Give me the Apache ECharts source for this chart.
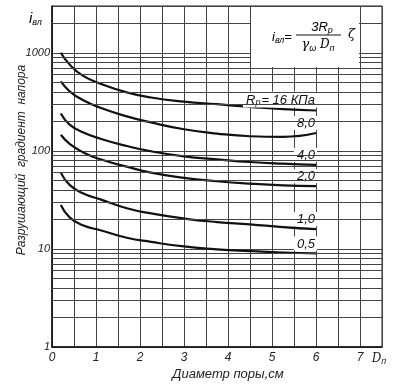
<!DOCTYPE html>
<html><head><meta charset="utf-8">
<script src="https://cdn.jsdelivr.net/npm/echarts@6/dist/echarts.min.js"></script>
<style>html,body{margin:0;padding:0;background:#fff}#c{width:397px;height:385px}</style>
</head><body><div id="c"></div>
<script>
// Diameter of pore D_п, cm
const diameters = [0.2, 0.4, 0.7, 1.1, 1.7, 2.25, 3, 3.75, 4.5, 5.25, 6];
// Destructive head gradient i_вл for each R_p
const grad16 = [1000, 760, 585, 485, 395, 350, 318, 299, 281, 266, 258];
const grad8  = [510, 405, 330, 275, 225, 195, 166, 150, 141, 139, 152];
const grad4  = [240, 185, 155, 133, 112, 99, 88, 82, 77, 74, 72];
const grad2  = [146, 118, 97, 82, 69, 60, 53, 49, 46.3, 44.5, 43.7];
const grad1  = [60, 45, 37, 32, 26, 23, 20.4, 18.8, 17.8, 16.7, 15.9];
const grad05 = [28, 21, 17.4, 15.5, 13, 11.8, 10.6, 9.9, 9.5, 9.2, 9.0];
const seriesValues = [grad16, grad8, grad4, grad2, grad1, grad05];
const seriesLabels = ['{r|R}{s|p}{r|= 16 КПа}', '{r|8,0}', '{r|4,0}', '{r|2,0}', '{r|1,0}', '{r|0,5}'];
const xTickLabels = [0, 1, 2, 3, 4, 5, 6, 7];
const yTickLabels = [1, 10, 100, 1000];
const minorGridValues = [2,3,4,5,6,7,8,9,20,30,40,50,60,70,80,90,200,300,400,500,600,700,800,900,2000];

const FONT = "'Liberation Sans', 'DejaVu Sans', sans-serif";
const chart = echarts.init(document.getElementById('c'), null, {renderer: 'canvas'});

const labelRich = {
  r: {fontFamily: FONT, fontStyle: 'italic', fontSize: 13, color: '#111'},
  s: {fontFamily: FONT, fontStyle: 'italic', fontSize: 9, color: '#111', verticalAlign: 'bottom', padding: [6, 1, 0, 0]}
};

const series = [{
  type: 'line', name: 'minorGrid', data: [], z: 1, silent: true,
  markLine: {
    silent: true, symbol: 'none', animation: false,
    label: {show: false},
    lineStyle: {color: '#444', width: 1, type: 'solid'},
    data: minorGridValues.map(v => ({yAxis: v}))
  }
}];
seriesValues.forEach((vals, i) => {
  series.push({
    type: 'line', z: 3, smooth: 0.5, showSymbol: false, symbol: 'none',
    data: vals.map((v, j) => [diameters[j], v]),
    lineStyle: {color: '#111', width: 2.2},
    endLabel: {
      show: true, formatter: () => seriesLabels[i],
      align: 'right', verticalAlign: 'bottom', distance: 0, offset: [1, -3],
      backgroundColor: '#fff', padding: [1, 2, 0, 3], rich: labelRich
    }
  });
});

chart.setOption({
  animation: false,
  backgroundColor: '#fff',
  grid: {left: 52, right: 15, top: 6, bottom: 38, show: true, borderColor: '#222', borderWidth: 1},
  xAxis: {
    type: 'value', min: 0, max: 7.5, interval: 0.5,
    axisLine: {lineStyle: {color: '#111', width: 1.5}},
    axisTick: {show: false},
    splitLine: {show: true, lineStyle: {color: '#444', width: 1}},
    axisLabel: {
      margin: 5, fontFamily: FONT, fontStyle: 'italic', fontSize: 12, color: '#222',
      formatter: v => xTickLabels.includes(v) ? String(v) : (v === 7.5 ? '{d|D}{s|п}' : ''),
      rich: {
        d: {fontFamily: 'DejaVu Serif', fontStyle: 'italic', fontSize: 12, color: '#222'},
        s: {fontFamily: FONT, fontStyle: 'italic', fontSize: 9, color: '#222', verticalAlign: 'bottom', padding: [5, 6, 0, 0]}
      }
    }
  },
  yAxis: {
    type: 'log', logBase: 10, min: 1, max: 3000,
    axisLine: {show: true, lineStyle: {color: '#111', width: 1.5}},
    axisTick: {show: false},
    splitLine: {show: true, lineStyle: {color: '#444', width: 1}},
    axisLabel: {
      margin: 2, fontFamily: FONT, fontStyle: 'italic', fontSize: 11, color: '#222',
      formatter: v => yTickLabels.some(t => Math.abs(t - v) < 1e-6) ? String(Math.round(v)) : ''
    }
  },
  series: series
});

// annotations
const p1 = chart.convertToPixel({gridIndex: 0}, [4.5, 3000]);
const p2 = chart.convertToPixel({gridIndex: 0}, [7, 700]);
const bx = p1[0] + 1, by = p1[1] + 1, bw = p2[0] - p1[0] - 2, bh = p2[1] - p1[1] - 2;
const fRich = {
  i: {fontFamily: FONT, fontStyle: 'italic', fontSize: 13, color: '#111'},
  I: {fontFamily: FONT, fontStyle: 'italic', fontSize: 15, color: '#111'},
  s: {fontFamily: FONT, fontStyle: 'italic', fontSize: 9, color: '#111', verticalAlign: 'bottom', padding: [7, 0, 0, 0]},
  g: {fontFamily: 'DejaVu Serif', fontStyle: 'italic', fontSize: 13, color: '#111'},
  d: {fontFamily: 'DejaVu Serif', fontStyle: 'italic', fontSize: 12, color: '#111'}
};
chart.setOption({
  graphic: [
    {type: 'rect', z: 100, shape: {x: bx, y: by, width: bw, height: bh}, style: {fill: '#fff'}},
    {type: 'text', z: 101, style: {x: bx + 21, y: by + 30, text: '{i|i}{s|вл}{i|=}', rich: fRich, verticalAlign: 'middle'}},
    {type: 'text', z: 101, style: {x: bx + 71, y: by + 20, text: '{i|3R}{s|p}', rich: fRich, align: 'center', verticalAlign: 'middle'}},
    {type: 'line', z: 101, shape: {x1: bx + 45, y1: by + 28, x2: bx + 90, y2: by + 28}, style: {stroke: '#111', lineWidth: 1}},
    {type: 'text', z: 101, style: {x: bx + 67, y: by + 38, text: '{g|γ}{s|ω}{i| }{d|D}{s|п}', rich: fRich, align: 'center', verticalAlign: 'middle'}},
    {type: 'text', z: 101, style: {x: bx + 97, y: by + 28, text: '{g|ζ}', rich: fRich, verticalAlign: 'middle'}},
    {type: 'text', z: 101, style: {x: 29, y: 19, text: '{I|i}{s|вл}', rich: fRich, verticalAlign: 'middle'}},
    {type: 'text', z: 101, rotation: Math.PI / 2, x: 22, y: 160,
      style: {x: 0, y: 0, text: 'Разрушающий  градиент  напора', font: 'italic 12px ' + FONT, fill: '#222', align: 'center', verticalAlign: 'middle'}},
    {type: 'text', z: 101, style: {x: 228, y: 374, text: 'Диаметр поры,см', font: 'italic 13px ' + FONT, fill: '#222', align: 'center', verticalAlign: 'middle'}}
  ]
});
</script>
</body></html>
